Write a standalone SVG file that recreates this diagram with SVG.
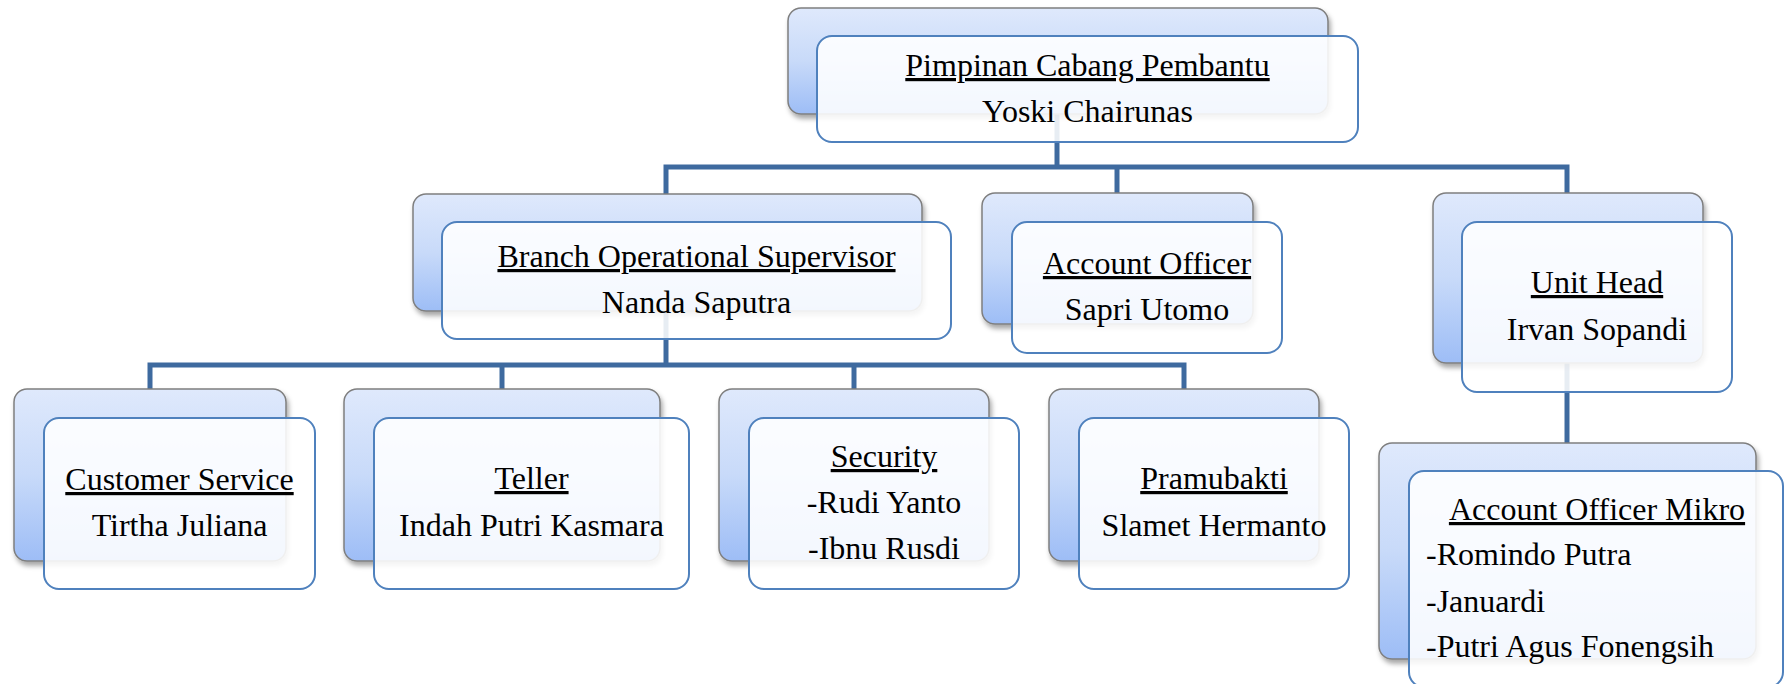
<svg xmlns="http://www.w3.org/2000/svg" width="1785" height="684" viewBox="0 0 1785 684">
<defs>
<linearGradient id="bg" x1="0" y1="0" x2="0" y2="1">
<stop offset="0" stop-color="#dfe9fc"/>
<stop offset="0.5" stop-color="#c8daf9"/>
<stop offset="1" stop-color="#9dbdf6"/>
</linearGradient>
<filter id="sh" x="-10%" y="-10%" width="125%" height="130%">
<feDropShadow dx="2" dy="4" stdDeviation="2.5" flood-color="#000" flood-opacity="0.35"/>
</filter>
</defs>
<style>
.back{fill:url(#bg);stroke:#7f7f7f;stroke-width:1.5;filter:url(#sh)}
.front{fill:#ffffff;fill-opacity:0.88;stroke:#4f81bd;stroke-width:2}
.conn{fill:none;stroke:#3e6a9f;stroke-width:5;stroke-linejoin:miter}
text{font-family:"Liberation Serif","Times New Roman",serif;font-size:32px;fill:#000}
.c{text-anchor:middle}
.u{text-decoration:underline}
</style>
<rect width="1785" height="684" fill="#fff"/>
<g id="connectors">
<path class="conn" d="M1057 114 V167"/>
<path class="conn" d="M666 194 V167 H1567 V193"/>
<path class="conn" d="M1117 167 V193"/>
<path class="conn" d="M666 311 V365"/>
<path class="conn" d="M150 389 V365 H1184 V389"/>
<path class="conn" d="M502 365 V389"/>
<path class="conn" d="M854 365 V389"/>
<path class="conn" d="M1567 363 V443"/>
</g>
<g id="pimpinan">
<rect class="back" x="788" y="8" width="540" height="106" rx="13"/>
<rect class="front" x="817" y="36" width="541" height="106" rx="15"/>
<text class="c u" x="1087.5" y="76">Pimpinan Cabang Pembantu</text>
<text class="c" x="1087.5" y="122">Yoski Chairunas</text>
</g>
<g id="bos">
<rect class="back" x="413" y="194" width="509" height="117" rx="13"/>
<rect class="front" x="442" y="222" width="509" height="117" rx="15"/>
<text class="c u" x="696.5" y="267">Branch Operational Supervisor</text>
<text class="c" x="696.5" y="313">Nanda Saputra</text>
</g>
<g id="account-officer">
<rect class="back" x="982" y="193" width="271" height="131" rx="13"/>
<rect class="front" x="1012" y="222" width="270" height="131" rx="15"/>
<text class="c u" x="1147" y="274">Account Officer</text>
<text class="c" x="1147" y="320">Sapri Utomo</text>
</g>
<g id="unit-head">
<rect class="back" x="1433" y="193" width="270" height="170" rx="13"/>
<rect class="front" x="1462" y="222" width="270" height="170" rx="15"/>
<text class="c u" x="1597" y="293">Unit Head</text>
<text class="c" x="1597" y="340">Irvan Sopandi</text>
</g>
<g id="customer-service">
<rect class="back" x="14" y="389" width="272" height="172" rx="13"/>
<rect class="front" x="44" y="418" width="271" height="171" rx="15"/>
<text class="c u" x="179.5" y="490">Customer Service</text>
<text class="c" x="179.5" y="536">Tirtha Juliana</text>
</g>
<g id="teller">
<rect class="back" x="344" y="389" width="316" height="172" rx="13"/>
<rect class="front" x="374" y="418" width="315" height="171" rx="15"/>
<text class="c u" x="531.5" y="489">Teller</text>
<text class="c" x="531.5" y="536">Indah Putri Kasmara</text>
</g>
<g id="security">
<rect class="back" x="719" y="389" width="270" height="172" rx="13"/>
<rect class="front" x="749" y="418" width="270" height="171" rx="15"/>
<text class="c u" x="884" y="467">Security</text>
<text class="c" x="884" y="513">-Rudi Yanto</text>
<text class="c" x="884" y="559">-Ibnu Rusdi</text>
</g>
<g id="pramubakti">
<rect class="back" x="1049" y="389" width="270" height="172" rx="13"/>
<rect class="front" x="1079" y="418" width="270" height="171" rx="15"/>
<text class="c u" x="1214" y="489">Pramubakti</text>
<text class="c" x="1214" y="536">Slamet Hermanto</text>
</g>
<g id="account-officer-mikro">
<rect class="back" x="1379" y="443" width="377" height="216" rx="13"/>
<rect class="front" x="1409" y="471" width="374" height="216" rx="15"/>
<text class="c u" x="1597" y="520">Account Officer Mikro</text>
<text x="1426" y="565">-Romindo Putra</text>
<text x="1426" y="612">-Januardi</text>
<text x="1426" y="657">-Putri Agus Fonengsih</text>
</g>
</svg>
